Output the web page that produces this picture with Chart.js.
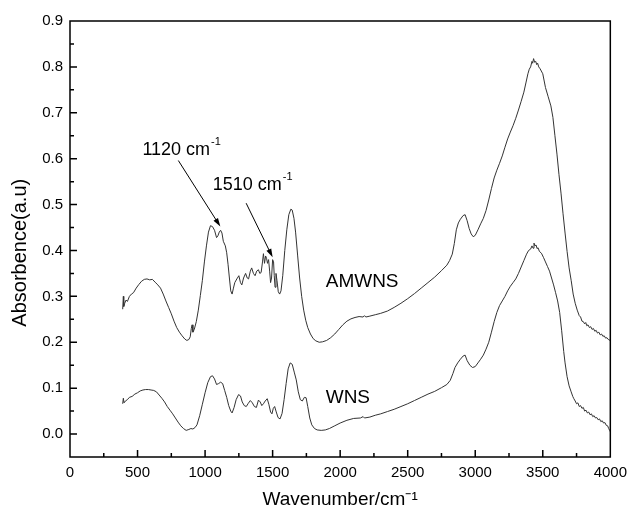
<!DOCTYPE html>
<html>
<head>
<meta charset="utf-8">
<title>FTIR spectra</title>
<script src="https://cdn.jsdelivr.net/npm/chart.js@4.4.1/dist/chart.umd.min.js"></script>
<style>
  body { margin: 0; background: #fff; }
  #wrap { width: 634px; height: 518px; }
</style>
</head>
<body>
<div id="wrap"><canvas id="ftirChart" width="634" height="518"></canvas></div>
<script>
// AMWNS spectrum: wavenumber (cm-1) / absorbance
const amwnsWave = [
  390, 395, 398, 405, 415, 425, 440, 455, 470, 490,
  510, 530, 550, 570, 590, 610, 630, 650, 670, 690,
  710, 730, 750, 770, 790, 810, 830, 850, 865, 880,
  890, 898, 904, 910, 920, 935, 950, 965, 980, 995,
  1010, 1025, 1040, 1055, 1070, 1085, 1095, 1105, 1115, 1125,
  1135, 1150, 1160, 1170, 1180, 1190, 1200, 1210, 1220, 1235,
  1250, 1262, 1272, 1285, 1300, 1312, 1322, 1335, 1345, 1358,
  1370, 1382, 1395, 1405, 1415, 1425, 1432, 1440, 1448, 1455,
  1462, 1470, 1478, 1485, 1492, 1500, 1507, 1512, 1518, 1525,
  1532, 1542, 1552, 1562, 1575, 1590, 1605, 1620, 1635, 1645,
  1658, 1670, 1685, 1700, 1715, 1730, 1745, 1760, 1780, 1800,
  1820, 1845, 1870, 1900, 1930, 1960, 1990, 2020, 2050, 2080,
  2110, 2140, 2170, 2180, 2190, 2220, 2260, 2300, 2350, 2400,
  2450, 2500, 2550, 2600, 2650, 2700, 2750, 2790, 2810, 2830,
  2845, 2860, 2875, 2890, 2910, 2925, 2940, 2955, 2970, 2985,
  3000, 3020, 3040, 3060, 3080, 3100, 3120, 3140, 3160, 3180,
  3200, 3220, 3240, 3260, 3280, 3300, 3320, 3340, 3360, 3375,
  3390, 3400, 3410, 3420, 3425, 3432, 3440, 3448, 3455, 3462,
  3470, 3480, 3500, 3520, 3540, 3560, 3575, 3590, 3605, 3620,
  3635, 3650, 3665, 3680, 3695, 3710, 3725, 3740, 3755, 3770,
  3780, 3790, 3800, 3810, 3818, 3826, 3835, 3845, 3855, 3865,
  3875, 3885, 3895, 3905, 3915, 3925, 3935, 3945, 3955, 3965,
  3975, 3985, 3995, 4000
];
const amwnsAbs = [
  0.272, 0.300, 0.278, 0.285, 0.292, 0.289, 0.300, 0.305, 0.308, 0.318,
  0.326, 0.333, 0.337, 0.338, 0.336, 0.337, 0.331, 0.325, 0.318, 0.305,
  0.290, 0.276, 0.262, 0.246, 0.232, 0.222, 0.214, 0.207, 0.204, 0.206,
  0.212, 0.230, 0.238, 0.222, 0.228, 0.245, 0.270, 0.302, 0.335, 0.375,
  0.410, 0.440, 0.454, 0.452, 0.444, 0.428, 0.432, 0.440, 0.444, 0.438,
  0.420, 0.410, 0.395, 0.370, 0.340, 0.312, 0.305, 0.318, 0.330, 0.338,
  0.345, 0.330, 0.325, 0.340, 0.350, 0.340, 0.338, 0.355, 0.362, 0.350,
  0.345, 0.355, 0.358, 0.350, 0.352, 0.375, 0.393, 0.372, 0.388, 0.383,
  0.372, 0.380, 0.355, 0.330, 0.340, 0.380, 0.375, 0.345, 0.320, 0.350,
  0.335, 0.310, 0.305, 0.312, 0.345, 0.400, 0.445, 0.478, 0.490, 0.488,
  0.470, 0.440, 0.390, 0.340, 0.300, 0.270, 0.248, 0.232, 0.218, 0.208,
  0.203, 0.200, 0.201, 0.204, 0.210, 0.218, 0.228, 0.238, 0.246, 0.251,
  0.254, 0.256, 0.255, 0.258, 0.255, 0.257, 0.260, 0.263, 0.268, 0.276,
  0.285, 0.295, 0.306, 0.318, 0.330, 0.342, 0.356, 0.368, 0.378, 0.392,
  0.415, 0.445, 0.460, 0.468, 0.476, 0.478, 0.465, 0.448, 0.436, 0.430,
  0.433, 0.445, 0.458, 0.470, 0.487, 0.510, 0.535, 0.558, 0.575, 0.590,
  0.606, 0.625, 0.643, 0.658, 0.672, 0.688, 0.706, 0.725, 0.745, 0.765,
  0.785, 0.795, 0.800, 0.812, 0.808, 0.818, 0.810, 0.812, 0.805, 0.808,
  0.800, 0.796, 0.785, 0.755, 0.735, 0.715, 0.690, 0.650, 0.610, 0.565,
  0.525, 0.480, 0.438, 0.398, 0.362, 0.335, 0.305, 0.285, 0.270, 0.258,
  0.255, 0.246, 0.245, 0.240, 0.243, 0.236, 0.238, 0.232, 0.234, 0.228,
  0.230, 0.224, 0.226, 0.220, 0.222, 0.216, 0.218, 0.213, 0.214, 0.209,
  0.210, 0.206, 0.205, 0.203
];

// WNS spectrum: wavenumber (cm-1) / absorbance
const wnsWave = [
  390, 395, 400, 410, 425, 440, 460, 480, 500, 520,
  540, 560, 580, 600, 620, 640, 660, 680, 700, 720,
  740, 760, 780, 800, 820, 840, 860, 880, 895, 910,
  925, 940, 960, 980, 1000, 1020, 1040, 1055, 1070, 1085,
  1100, 1115, 1130, 1145, 1160, 1175, 1190, 1200, 1215, 1230,
  1248, 1262, 1275, 1290, 1305, 1320, 1335, 1350, 1365, 1380,
  1395, 1408, 1420, 1432, 1445, 1460, 1472, 1485, 1495, 1505,
  1515, 1525, 1540, 1555, 1570, 1585, 1600, 1615, 1630, 1645,
  1660, 1675, 1690, 1705, 1720, 1735, 1748, 1760, 1775, 1790,
  1810, 1830, 1860, 1890, 1920, 1960, 2000, 2050, 2100, 2150,
  2170, 2180, 2220, 2260, 2300, 2350, 2400, 2450, 2500, 2550,
  2600, 2650, 2700, 2750, 2790, 2815, 2835, 2850, 2870, 2890,
  2910, 2925, 2940, 2960, 2980, 3000, 3020, 3040, 3060, 3080,
  3100, 3120, 3140, 3160, 3180, 3200, 3220, 3240, 3260, 3280,
  3300, 3320, 3340, 3360, 3380, 3395, 3410, 3420, 3428, 3435,
  3442, 3450, 3458, 3465, 3475, 3490, 3505, 3520, 3535, 3550,
  3565, 3580, 3595, 3610, 3625, 3640, 3655, 3665, 3680, 3695,
  3710, 3722, 3730, 3740, 3750, 3760, 3770, 3780, 3790, 3800,
  3810, 3820, 3830, 3840, 3850, 3860, 3870, 3880, 3890, 3900,
  3910, 3920, 3930, 3940, 3950, 3960, 3970, 3980, 3988, 3995,
  4000
];
const wnsAbs = [
  0.066, 0.078, 0.068, 0.072, 0.075, 0.080, 0.082, 0.087, 0.090, 0.094,
  0.096, 0.097, 0.097, 0.096, 0.095, 0.092, 0.085, 0.078, 0.070, 0.060,
  0.052, 0.044, 0.035, 0.026, 0.018, 0.012, 0.008, 0.010, 0.012, 0.011,
  0.014, 0.020, 0.040, 0.065, 0.090, 0.112, 0.125, 0.127, 0.120, 0.108,
  0.110, 0.113, 0.110, 0.095, 0.080, 0.062, 0.050, 0.046, 0.058, 0.075,
  0.086, 0.083, 0.070, 0.062, 0.060, 0.067, 0.073, 0.068, 0.060, 0.058,
  0.074, 0.070, 0.062, 0.066, 0.072, 0.077, 0.065, 0.048, 0.044, 0.056,
  0.060, 0.050, 0.036, 0.033, 0.045, 0.075, 0.110, 0.142, 0.155, 0.152,
  0.135, 0.118, 0.092, 0.075, 0.072, 0.080, 0.079, 0.060, 0.035, 0.020,
  0.012, 0.009, 0.008, 0.009, 0.012, 0.018, 0.024, 0.030, 0.034, 0.035,
  0.038, 0.035, 0.037, 0.041, 0.044, 0.049, 0.054, 0.060, 0.066, 0.073,
  0.080, 0.087, 0.093, 0.101, 0.108, 0.117, 0.132, 0.145, 0.155, 0.163,
  0.170, 0.172, 0.160, 0.150, 0.145, 0.147, 0.155, 0.163, 0.172, 0.185,
  0.200, 0.222, 0.245, 0.265, 0.280, 0.290, 0.300, 0.312, 0.322, 0.330,
  0.338, 0.350, 0.364, 0.378, 0.392, 0.400, 0.403, 0.410, 0.405, 0.416,
  0.410, 0.412, 0.404, 0.406, 0.398, 0.394, 0.385, 0.375, 0.365, 0.355,
  0.340, 0.325, 0.308, 0.290, 0.265, 0.225, 0.180, 0.155, 0.125, 0.105,
  0.092, 0.082, 0.077, 0.072, 0.066, 0.068, 0.060, 0.062, 0.056, 0.058,
  0.050, 0.052, 0.046, 0.048, 0.042, 0.044, 0.038, 0.040, 0.035, 0.036,
  0.031, 0.033, 0.027, 0.029, 0.024, 0.025, 0.019, 0.018, 0.012, 0.008,
  0.005
];

// text labels placed in data units (wavenumber, absorbance)
const curveLabels = [
  { text: 'AMWNS', x: 1893, y: 0.331 },
  { text: 'WNS', x: 1893, y: 0.080 }
];
const peakNotes = [
  { text: '1120 cm', sup: '-1', x: 536, y: 0.619, from: [802, 0.596], to: [1113, 0.452] },
  { text: '1510 cm', sup: '-1', x: 1057, y: 0.543, from: [1304, 0.503], to: [1500, 0.385] }
];
const yTitle = 'Absorbence(a.u)';

const FONT = "'Liberation Sans', Arial, Helvetica, sans-serif";
Chart.defaults.font.family = FONT;
Chart.defaults.color = '#000';

const toPoints = (xs, ys) => xs.map((v, i) => ({ x: v, y: ys[i] }));

// box frame plus inward major/minor ticks on the bottom and left axes
const frameTicks = {
  id: 'frameTicks',
  afterDraw(chart) {
    const { ctx, chartArea: a, scales: { x, y } } = chart;
    ctx.save();
    ctx.strokeStyle = '#000';
    ctx.lineWidth = 1.5;
    ctx.strokeRect(a.left, a.top, a.right - a.left, a.bottom - a.top);
    ctx.beginPath();
    x.ticks.forEach(t => {
      const px = x.getPixelForValue(t.value);
      if (px <= a.left + 1 || px >= a.right - 1) return;
      const len = t.value % 500 === 0 ? 7 : 4;
      ctx.moveTo(px, a.bottom);
      ctx.lineTo(px, a.bottom - len);
    });
    y.ticks.forEach(t => {
      const py = y.getPixelForValue(t.value);
      if (py <= a.top + 1 || py >= a.bottom - 1) return;
      const len = Math.round(t.value * 20) % 2 === 0 ? 7 : 4;
      ctx.moveTo(a.left, py);
      ctx.lineTo(a.left + len, py);
    });
    ctx.stroke();

    // rotated y axis title, sitting a little below the axis middle
    ctx.fillStyle = '#000';
    ctx.font = '20px ' + FONT;
    ctx.textAlign = 'center';
    ctx.textBaseline = 'middle';
    ctx.translate(20, y.getPixelForValue(0.395));
    ctx.rotate(-Math.PI / 2);
    ctx.fillText(yTitle, 0, 0);
    ctx.restore();
  }
};

function textWithSup(ctx, x, y, main, sup, size) {
  ctx.font = size + 'px ' + FONT;
  ctx.textBaseline = 'middle';
  ctx.fillText(main, x, y);
  const w = ctx.measureText(main).width;
  ctx.font = Math.round(size * 0.6) + 'px ' + FONT;
  ctx.fillText(sup, x + w + 1, y - size * 0.42);
}

// curve names and arrowed peak notes
const notes = {
  id: 'notes',
  afterDatasetsDraw(chart) {
    const { ctx, scales: { x, y } } = chart;
    ctx.save();
    ctx.fillStyle = '#000';
    ctx.strokeStyle = '#000';
    ctx.textAlign = 'left';
    ctx.textBaseline = 'middle';
    ctx.font = '19px ' + FONT;
    curveLabels.forEach(l => {
      ctx.fillText(l.text, x.getPixelForValue(l.x), y.getPixelForValue(l.y));
    });
    peakNotes.forEach(n => {
      textWithSup(ctx, x.getPixelForValue(n.x), y.getPixelForValue(n.y), n.text, n.sup, 18);
      const x0 = x.getPixelForValue(n.from[0]), y0 = y.getPixelForValue(n.from[1]);
      const x1 = x.getPixelForValue(n.to[0]), y1 = y.getPixelForValue(n.to[1]);
      const ang = Math.atan2(y1 - y0, x1 - x0);
      const head = 9, spread = 0.3;
      ctx.lineWidth = 1;
      ctx.beginPath();
      ctx.moveTo(x0, y0);
      ctx.lineTo(x1 - Math.cos(ang) * head * 0.8, y1 - Math.sin(ang) * head * 0.8);
      ctx.stroke();
      ctx.beginPath();
      ctx.moveTo(x1, y1);
      ctx.lineTo(x1 - head * Math.cos(ang - spread), y1 - head * Math.sin(ang - spread));
      ctx.lineTo(x1 - head * Math.cos(ang + spread), y1 - head * Math.sin(ang + spread));
      ctx.closePath();
      ctx.fill();
    });
    ctx.restore();
  }
};

const ctx = document.getElementById('ftirChart').getContext('2d');
const ftirChart = new Chart(ctx, {
  type: 'scatter',
  data: {
    datasets: [
      {
        label: 'AMWNS',
        data: toPoints(amwnsWave, amwnsAbs),
        showLine: true,
        borderColor: '#333',
        borderWidth: 1,
        pointRadius: 0,
        tension: 0
      },
      {
        label: 'WNS',
        data: toPoints(wnsWave, wnsAbs),
        showLine: true,
        borderColor: '#333',
        borderWidth: 1,
        pointRadius: 0,
        tension: 0
      }
    ]
  },
  options: {
    responsive: false,
    animation: false,
    layout: { padding: { top: 21, right: 19, bottom: 0, left: 0 } },
    plugins: {
      legend: { display: false },
      tooltip: { enabled: false }
    },
    scales: {
      x: {
        type: 'linear',
        min: 0,
        max: 4000,
        grid: { display: false, drawTicks: false },
        border: { display: false },
        ticks: {
          stepSize: 250,
          maxTicksLimit: 100,
          autoSkip: false,
          maxRotation: 0,
          padding: 7,
          font: { size: 15 },
          callback: v => (v % 500 === 0 ? String(v) : '')
        },
        title: {
          display: true,
          text: 'Wavenumber/cm\u207B\u00B9',
          font: { size: 19 },
          padding: { top: 0, bottom: 7 }
        },
        afterFit: s => { s.height = 61; }
      },
      y: {
        min: -0.05,
        max: 0.9,
        grid: { display: false, drawTicks: false },
        border: { display: false },
        ticks: {
          stepSize: 0.05,
          maxTicksLimit: 100,
          autoSkip: false,
          padding: 7,
          font: { size: 15 },
          callback: v => (Math.round(v * 20) % 2 === 0 ? v.toFixed(1) : '')
        },
        afterFit: s => { s.width = 70; }
      }
    }
  },
  plugins: [frameTicks, notes]
});
</script>
</body>
</html>
